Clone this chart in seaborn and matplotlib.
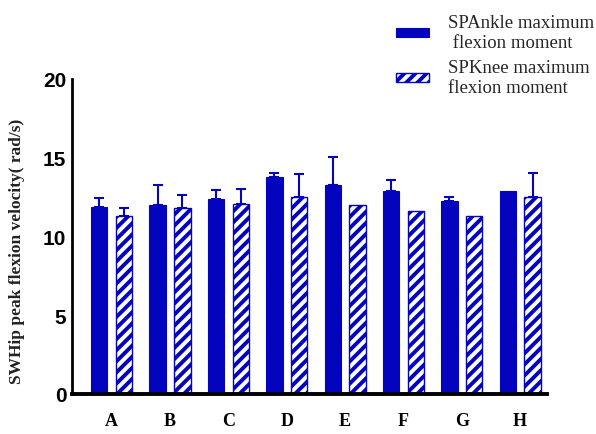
import numpy as np
import pandas as pd
import matplotlib
matplotlib.use("Agg")
import matplotlib.pyplot as plt
import seaborn as sns

# Per-condition means and upper error bars
categories = ["A", "B", "C", "D", "E", "F", "G", "H"]
ankle_mean = [11.85, 12.0, 12.35, 13.75, 13.25, 12.9, 12.25, 12.9]
ankle_err = [0.6, 1.3, 0.6, 0.3, 1.8, 0.7, 0.25, 0.0]
knee_mean = [11.3, 11.8, 12.05, 12.5, 12.0, 11.6, 11.3, 12.5]
knee_err = [0.5, 0.85, 0.95, 1.45, 0.0, 0.0, 0.0, 1.55]
series_names = ["SPAnkle maximum\n flexion moment", "SPKnee maximum\nflexion moment"]
y_ticks = [0, 5, 10, 15, 20]

BLUE = "#0404BF"

sns.set_style("white")
plt.rcParams["hatch.linewidth"] = 2.8
plt.rcParams["font.family"] = ["Liberation Serif", "DejaVu Serif"]

df = pd.DataFrame({
    "cond": categories * 2,
    "value": ankle_mean + knee_mean,
    "series": [series_names[0]] * len(categories) + [series_names[1]] * len(categories),
})

fig = plt.figure(figsize=(5.96, 4.35), dpi=100)
ax = fig.add_axes([0.1208, 0.0920, 0.797, 0.7241])

sns.barplot(data=df, x="cond", y="value", hue="series", order=categories,
            hue_order=series_names, palette=[BLUE, BLUE], saturation=1,
            width=0.85, gap=0.34, errorbar=None, legend=False, ax=ax, zorder=2)

# Knee series: white fill with diagonal blue stripes
for p in ax.containers[1].patches:
    p.set_facecolor("white")
    p.set_edgecolor(BLUE)
    p.set_hatch("///")
    p.set_linewidth(1.0)
for p in ax.containers[0].patches:
    p.set_edgecolor(BLUE)
    p.set_linewidth(0.8)

# Upward-only error bars placed on each bar
for cont, errs in zip(ax.containers, [ankle_err, knee_err]):
    for p, e in zip(cont.patches, errs):
        if e <= 0:
            continue
        xc = p.get_x() + p.get_width() / 2
        ax.errorbar([xc], [p.get_height()], yerr=[[0], [e]], fmt="none",
                    ecolor=BLUE, elinewidth=1.5, capsize=3.3, capthick=1.5, zorder=1)

ax.set_xlim(-0.68, 7.46)
ax.set_ylim(0, 20)
ax.set_yticks(y_ticks)
ax.set_xlabel("")
ax.set_ylabel("SWHip peak flexion velocity( rad/s)", fontsize=12.5,
              family=["Liberation Serif"], fontweight="bold", color="#222222")
ax.yaxis.set_label_coords(-0.099, 0.456)

sns.despine(ax=ax)
ax.spines["left"].set_linewidth(2.0)
ax.spines["bottom"].set_linewidth(2.8)
ax.spines["left"].set_color("black")
ax.spines["bottom"].set_color("black")
ax.tick_params(axis="both", length=0, labelcolor="black")
ax.tick_params(axis="y", pad=4)
ax.tick_params(axis="x", pad=13)
for t in ax.get_yticklabels():
    t.set_fontfamily(["Liberation Sans"])
    t.set_fontweight("bold")
    t.set_fontsize(15)
for t in ax.get_xticklabels():
    t.set_fontfamily(["Liberation Serif"])
    t.set_fontweight("bold")
    t.set_fontsize(13)

handles = [ax.containers[0].patches[0], ax.containers[1].patches[0]]
fig.legend(handles=handles, labels=series_names, loc="upper left",
           bbox_to_anchor=(0.664, 0.965), frameon=False, fontsize=13.5,
           handlelength=1.78, handleheight=0.35, handletextpad=1.0,
           labelspacing=0.45, borderpad=0, borderaxespad=0)

fig.savefig("out.png", dpi=100)
